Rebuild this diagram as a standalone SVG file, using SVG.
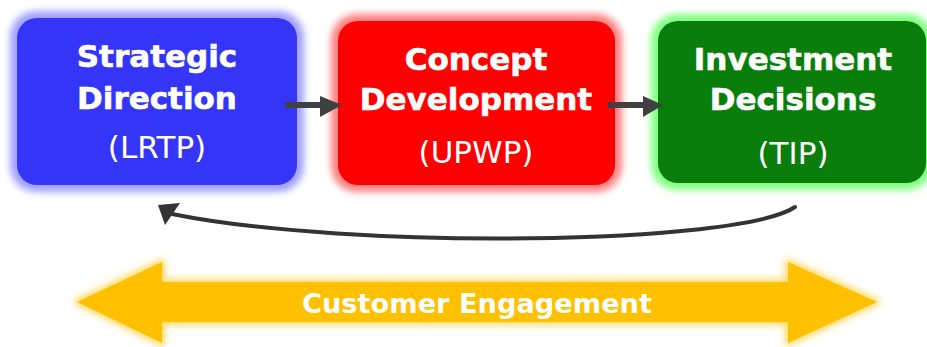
<svg xmlns="http://www.w3.org/2000/svg" width="927" height="347" viewBox="0 0 927 347">
<style>
.t{font-family:"DejaVu Sans",Verdana,sans-serif;fill:#fff;text-anchor:middle}
.b{font-weight:bold;font-size:31px;stroke:#fff;stroke-width:0.6}
.r{font-size:31px}
.con{fill:#404040}
</style>
<defs>
<filter id="glow" x="-20%" y="-20%" width="140%" height="140%"><feGaussianBlur stdDeviation="3.5"/></filter>
</defs>
<rect width="927" height="347" fill="#fff"/>
<g id="strategic">
<rect x="10" y="11" width="294" height="181" rx="26" fill="#a0a0ff" filter="url(#glow)"/>
<rect x="17" y="18" width="280" height="167" rx="20" fill="#3535f8"/>
<text class="t b" x="157" y="67">Strategic</text>
<text class="t b" x="157" y="109">Direction</text>
<text class="t r" x="157" y="158">(LRTP)</text>
</g>
<g id="concept">
<rect x="331" y="14" width="291" height="178" rx="26" fill="#ff8080" filter="url(#glow)"/>
<rect x="338" y="21" width="277" height="164" rx="20" fill="#ff0000"/>
<text class="t b" x="476" y="70">Concept</text>
<text class="t b" x="476" y="110">Development</text>
<text class="t r" x="476" y="163">(UPWP)</text>
</g>
<g id="investment">
<rect x="651" y="14" width="282" height="176" rx="26" fill="#80ff80" filter="url(#glow)"/>
<rect x="658" y="21" width="268" height="162" rx="20" fill="#0a7e0a"/>
<text class="t b" x="793" y="70">Investment</text>
<text class="t b" x="793" y="110">Decisions</text>
<text class="t r" x="793" y="164">(TIP)</text>
</g>
<g id="engagement">
<polygon points="77,302 162,262 162,282 788,282 788,262 877,302 788,343 788,322 162,322 162,343" fill="#ffd966" stroke="#ffd966" stroke-width="6" stroke-linejoin="round" filter="url(#glow)"/>
<polygon points="77,302 162,262 162,282 788,282 788,262 877,302 788,343 788,322 162,322 162,343" fill="#ffc000"/>
<text class="t" x="477" y="313" font-weight="bold" font-size="27" textLength="350" lengthAdjust="spacingAndGlyphs">Customer Engagement</text>
</g>
<g id="connectors">
<rect class="con" x="285" y="102" width="37" height="6"/>
<polygon class="con" points="320,96 342,105 320,117"/>
<rect class="con" x="608" y="102" width="37" height="6"/>
<polygon class="con" points="643,96 663,105 643,117"/>
<path d="M795,207 C740,245 350,250 172,214" fill="none" stroke="#333" stroke-width="4" stroke-linecap="round"/>
<polygon points="158,205 180,203 165,225" fill="#333"/>
</g>
</svg>
